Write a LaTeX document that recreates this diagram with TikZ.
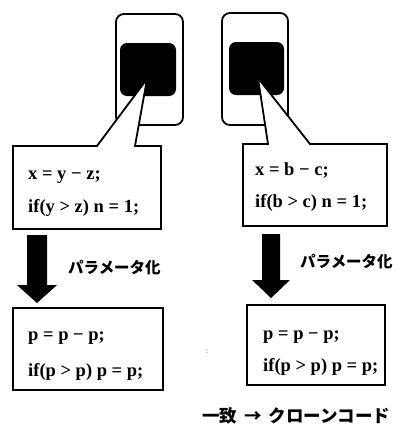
\documentclass[tikz,border=0pt]{standalone}
\usepackage{fontspec}
\setmainfont{Liberation Serif}
\newfontfamily\jp{Noto Sans CJK JP}
\begin{document}
\begin{tikzpicture}[x=1pt,y=-1pt,
  frame/.style={draw=black,line width=1.8pt},
  outerbox/.style={frame,rounded corners=8pt},
  chip/.style={fill=black,rounded corners=7pt},
  callout/.style={frame,fill=white,line join=miter},
  codebox/.style={frame,fill=white},
  bigarrow/.style={fill=black},
  code/.style={anchor=west,inner sep=0pt,font=\fontsize{18.5}{20}\selectfont\bfseries},
  jlabel/.style={anchor=west,inner sep=0pt,font=\jp\bfseries\fontsize{15.5}{17}\selectfont},
  caption/.style={anchor=west,inner sep=0pt,font=\jp\bfseries\fontsize{17.5}{19}\selectfont}]
\useasboundingbox (0,0) rectangle (398,426);
% left chip and callout
\draw[outerbox] (116,14) rectangle (183,125);
\fill[chip] (120,43) rectangle (176,96);
\draw[callout] (13,146) -- (97,146) -- (147,79) -- (135,146) -- (161,146) -- (161,229) -- (13,229) -- cycle;
\node[code] (c1a) at (28,177) {x = y − z;};
\node[code] (c1b) at (28,208) {if(y > z) n = 1;};
% right chip and callout
\draw[outerbox] (222,13) rectangle (288,125);
\fill[chip] (229,42) rectangle (284,95);
\draw[callout] (243,144) -- (268,144) -- (258,78) -- (310,144) -- (387,144) -- (387,226) -- (243,226) -- cycle;
\node[code] (c2a) at (255,171) {x = b − c;};
\node[code] (c2b) at (255,203) {if(b > c) n = 1;};
% arrows
\fill[bigarrow] (27,235) -- (47,235) -- (47,285) -- (57,285) -- (37,303) -- (17,285) -- (27,285) -- cycle;
\node[jlabel] (l1) at (68,268) {パラメータ化};
\fill[bigarrow] (262,234) -- (280,234) -- (280,280) -- (290,280) -- (271,298) -- (252,280) -- (262,280) -- cycle;
\node[jlabel] (l2) at (300,262) {パラメータ化};
% bottom boxes
\draw[codebox] (13,308) rectangle (163,390);
\node[code] (p1a) at (28,338) {p = p − p;};
\node[code] (p1b) at (28,372) {if(p > p) p = p;};
\draw[codebox] (247,305) rectangle (385,385);
\node[code] (p2a) at (263,337) {p = p − p;};
\node[code] (p2b) at (263,367) {if(p > p) p = p;};
\node[inner sep=0pt,font=\fontsize{7}{8}\selectfont] (dot) at (207,352) {:};
% caption
\node[caption] (cap) at (202,416) {一致 \,→\, クローンコード};
\end{tikzpicture}
\end{document}
